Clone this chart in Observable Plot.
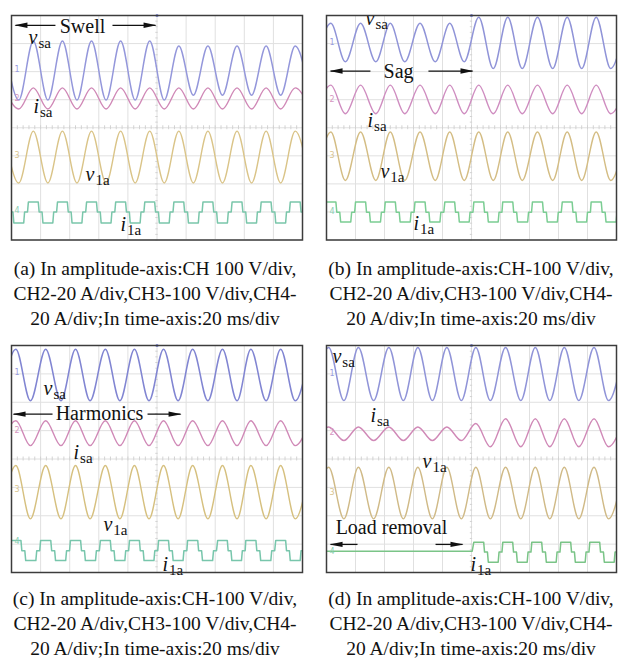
<!DOCTYPE html>
<html><head><meta charset="utf-8">
<script src="https://cdn.jsdelivr.net/npm/d3@7"></script>
<script src="https://cdn.jsdelivr.net/npm/@observablehq/plot@0.6"></script>
<style>
body{margin:0;background:#fff;}
#root{position:relative;width:620px;height:662px;overflow:hidden;background:#fff;font-family:"Liberation Serif","Times New Roman","DejaVu Serif",serif;}
.panel{position:absolute;}
.panel svg{overflow:visible;}
.cap{position:absolute;width:310px;text-align:center;font-size:19.5px;line-height:25px;color:#111;white-space:nowrap;}
</style></head><body><div id="root"></div>
<script>
// ---------- data (time in ms, 20 ms/div; amplitude in divisions, 0 = bottom) ----------
// panel (a) Swell
const tA   = [-5,5,15,25,35,45,55,65,75,85,95,105,115,125,135,145,155,165,175,185,195,205];
const vsaA = [7.09,4.99,7.09,4.99,7.09,4.99,7.09,4.99,7.09,4.99,7.09,4.99,6.91,5.16,6.91,5.16,6.91,5.16,6.91,5.16,6.91,5.16];
const isaA = [5.42,4.67,5.42,4.67,5.42,4.67,5.42,4.67,5.42,4.67,5.42,4.67,5.42,4.67,5.42,4.67,5.42,4.67,5.42,4.67,5.42,4.67];
const v1aA = [3.88,2.03,3.88,2.03,3.88,2.03,3.88,2.03,3.88,2.03,3.88,2.03,3.88,2.03,3.88,2.03,3.88,2.03,3.88,2.03,3.88,2.03];
const i1aCentersA = [-5,15,35,55,75,95,115,135,155,175,195,215];
const i1aLevelsA = [1.35,1.0,0.61];
// panel (b) Sag
const tB   = [-7,3,13,23.5,34,44,54,64.5,75,85,95,105,115,125,135,145.5,156,166,176,186,196,206.5];
const vsaB = [6.35,7.72,6.35,7.72,6.35,7.72,6.35,7.72,6.35,7.72,6.35,7.94,6.11,7.94,6.11,7.94,6.11,7.94,6.11,7.94,6.11,7.94];
const isaB = [4.5,5.52,4.5,5.52,4.5,5.52,4.5,5.52,4.5,5.52,4.5,5.52,4.5,5.52,4.5,5.52,4.5,5.52,4.5,5.52,4.5,5.52];
const v1aB = [2.12,3.85,2.12,3.85,2.12,3.85,2.12,3.85,2.12,3.85,2.12,3.85,2.12,3.85,2.12,3.85,2.12,3.85,2.12,3.85,2.12,3.85];
const i1aCentersB = [-17.5,3,23.5,44,64.5,85,105,125,145.5,166,186,206.5];
const i1aLevelsB = [1.35,0.99,0.64];
// panel (c) Harmonics
const tC   = [-7,3,13,23.5,34,44,54,64.5,74.5,84.5,94.5,104.5,114.5,124.5,135,145,155,164.5,175,185,195,205];
const vsaC = [6.05,7.87,6.05,7.87,6.05,7.87,6.05,7.87,6.05,7.87,6.05,7.87,6.05,7.87,6.05,7.87,6.05,7.87,6.05,7.87,6.05,7.87];
const isaC = [4.47,5.35,4.47,5.35,4.47,5.35,4.47,5.35,4.47,5.35,4.47,5.35,4.47,5.35,4.47,5.35,4.47,5.35,4.47,5.35,4.47,5.35];
const v1aC = [1.89,3.77,1.89,3.77,1.89,3.77,1.89,3.77,1.89,3.77,1.89,3.77,1.89,3.77,1.89,3.77,1.89,3.77,1.89,3.77,1.89,3.77];
const i1aCentersC = [-17,3,23.5,44,64.5,84.5,104.5,124.5,145,164.5,185,205];
const i1aLevelsC = [1.13,0.77,0.42];
// panel (d) Load removal
const tD   = [-9,1.5,12,22,32.5,43,53,63,73,83,93,103,113,123.5,134,144,154,164,174,184.5,194.5,205];
const vsaD = [6.06,7.93,6.06,7.93,6.06,7.93,6.06,7.93,6.06,7.93,6.06,7.93,6.06,7.93,6.06,7.93,6.06,7.93,6.06,7.93,6.06,7.93];
const isaD = [4.65,5.13,4.65,5.13,4.65,5.13,4.65,5.13,4.65,5.13,4.65,5.25,4.43,5.42,4.43,5.42,4.43,5.42,4.43,5.42,4.43,5.42];
const v1aD = [1.89,3.71,1.89,3.71,1.89,3.71,1.89,3.71,1.89,3.71,1.89,3.71,1.89,3.71,1.89,3.71,1.89,3.71,1.89,3.71,1.89,3.71];
const i1aOffD = [[-5,0.75],[100.5,0.75]];
const i1aCentersD = [105,125,145,165,185,205];
const i1aLevelsD = [1.07,0.72,0.36];

// labels  (text "main|subscript", t ms, y div)
const labelsA = [{s:"v|sa",t:11.7,y:6.98},{s:"i|sa",t:15.1,y:4.53},{s:"v|1a",t:50.9,y:2.10},{s:"i|1a",t:74.9,y:0.32}];
const labelsB = [{s:"v|sa",t:26.9,y:7.66},{s:"i|sa",t:28.3,y:4.02},{s:"v|1a",t:37.2,y:2.2},{s:"i|1a",t:60,y:0.34}];
const labelsC = [{s:"v|sa",t:22,y:6.24},{s:"i|sa",t:42.6,y:4.01},{s:"v|1a",t:63.2,y:1.48},{s:"i|1a",t:103.8,y:0.07}];
const labelsD = [{s:"v|sa",t:4.1,y:7.4},{s:"i|sa",t:30.3,y:5.29},{s:"v|1a",t:66.2,y:3.7},{s:"i|1a",t:99.3,y:0.07}];
// event annotations
const notesA = [{s:"Swell",t:48.8,y:7.39}];
const arrowsA = [{x1:30.2,x2:2.7,y:7.65},{x1:69.4,x2:99,y:7.65}];
const notesB = [{s:"Sag",t:49.7,y:5.79}];
const arrowsB = [{x1:30.3,x2:2.8,y:6.02},{x1:70.3,x2:100.7,y:6.02}];
const notesC = [{s:"Harmonics",t:60.5,y:5.36}];
const arrowsC = [{x1:28.2,x2:1.4,y:5.58},{x1:93.5,x2:116.2,y:5.58}];
const notesD = [{s:"Load removal",t:44.8,y:1.34}];
const arrowsD = [{x1:21.4,x2:2.8,y:0.99},{x1:75.2,x2:93.8,y:0.99}];
// channel ground markers
const channels = ["1","2","3","4"];
const markersA = [6.09,5.06,3.03,1.07];
const markersB = [7.05,5.02,3.02,1.02];
const markersC = [7.04,5.0,2.92,1.09];
const markersD = [7.02,4.93,2.82,0.75];

const captions = [
  ["(a) In amplitude-axis:CH 100 V/div,","CH2-20 A/div,CH3-100 V/div,CH4-","20 A/div;In time-axis:20 ms/div"],
  ["(b) In amplitude-axis:CH-100 V/div,","CH2-20 A/div,CH3-100 V/div,CH4-","20 A/div;In time-axis:20 ms/div"],
  ["(c) In amplitude-axis:CH-100 V/div,","CH2-20 A/div,CH3-100 V/div,CH4-","20 A/div;In time-axis:20 ms/div"],
  ["(d) In amplitude-axis:CH-100 V/div,","CH2-20 A/div,CH3-100 V/div,CH4-","20 A/div;In time-axis:20 ms/div"]
];

// ---------- helpers ----------
const svgns = "http://www.w3.org/2000/svg";
const rows = (times, vals) => times.map((t,i)=>({t, v: vals[i]}));
// one cycle of the stepped load current: high, mid step, low, mid step (fractions of a period)
const stepShape = [[-0.17,0],[0.17,0],[0.20,1],[0.30,1],[0.33,2],[0.67,2],[0.70,1],[0.80,1]];
function stepRows(centers, levels){
  const out = [];
  centers.forEach((c,i)=>{
    const T = i < centers.length-1 ? centers[i+1]-c : c-centers[i-1];
    stepShape.forEach(([f,k])=>out.push({t:c+f*T, v:levels[k]}));
  });
  return out;
}
const headRight = {draw(ctx){ctx.moveTo(1,0);ctx.lineTo(-12,-2.7);ctx.lineTo(-12,2.7);ctx.closePath();}};
const headLeft  = {draw(ctx){ctx.moveTo(-1,0);ctx.lineTo(12,-2.7);ctx.lineTo(12,2.7);ctx.closePath();}};

const root = document.getElementById("root");
const gridX = d3.range(0,201,20), gridY = d3.range(0,9,1);
const minorX = d3.range(0,200.1,4), minorY = d3.range(0,8.01,0.2);
const serif = "Liberation Serif, Times New Roman, DejaVu Serif, serif";

function panel(cfg){
  const {left, top, w, h} = cfg;
  const col = cfg.colors;
  const chart = Plot.plot({
    width: w+4, height: h+4, margin: 2,
    x:{domain:[0,200], axis:null}, y:{domain:[0,8], axis:null},
    style:{background:"transparent", overflow:"visible"},
    marks:[
      Plot.ruleX(gridX, {stroke:"#e0e0e0", strokeWidth:1}),
      Plot.ruleY(gridY, {stroke:"#e0e0e0", strokeWidth:1}),
      Plot.ruleX(minorX, {x:d=>d, y1:3.93, y2:4.07, stroke:"#d2d2d2", strokeWidth:1}),
      Plot.ruleY(minorY, {y:d=>d, x1:99.2, x2:100.8, stroke:"#d2d2d2", strokeWidth:1}),
      Plot.line(rows(cfg.times, cfg.vsa), {x:"t", y:"v", stroke:col[0], strokeWidth:1.5, curve:"monotone-x", clip:true}),
      Plot.line(rows(cfg.times, cfg.isa), {x:"t", y:"v", stroke:col[1], strokeWidth:1.4, curve:"monotone-x", clip:true}),
      Plot.line(rows(cfg.times, cfg.v1a), {x:"t", y:"v", stroke:col[2], strokeWidth:1.4, curve:"monotone-x", clip:true}),
      Plot.line(cfg.i1a, {x:"t", y:"v", stroke:col[3], strokeWidth:1.5, curve:"linear", clip:true}),
      Plot.dot([100], {x:d=>d, y:8, r:1.6, fill:"#7d86d6", stroke:"none"}),
      Plot.text(cfg.markers, {x:0, y:d=>d, text:(d,i)=>channels[i], dx:3, textAnchor:"start", fontSize:8, fontFamily:"DejaVu Sans", fill:(d,i)=>cfg.markColors[i]}),
      Plot.link(cfg.arrows, {x1:"x1", x2:"x2", y1:"y", y2:"y", stroke:"#111", strokeWidth:1.3}),
      Plot.dot(cfg.arrows.filter(a=>a.x2>a.x1), {x:"x2", y:"y", symbol:headRight, fill:"#111", stroke:"none"}),
      Plot.dot(cfg.arrows.filter(a=>a.x2<a.x1), {x:"x2", y:"y", symbol:headLeft, fill:"#111", stroke:"none"}),
      Plot.text(cfg.notes, {x:"t", y:"y", text:"s", textAnchor:"middle", lineAnchor:"bottom", fontSize:20, fontFamily:serif, fill:"#111"}),
      Plot.text(cfg.labels, {x:"t", y:"y", text:"s", textAnchor:"start", lineAnchor:"bottom", fontSize:20, fontFamily:serif, fill:"#111"}),
      Plot.frame({stroke:"#3c3c3c", strokeWidth:1.5})
    ]
  });
  chart.querySelectorAll("text").forEach(t=>{
    const s = t.textContent;
    if (!s.includes("|")) return;
    const [m, sub] = s.split("|");
    t.textContent = "";
    const a = document.createElementNS(svgns,"tspan");
    a.setAttribute("font-style","italic"); a.textContent = m;
    const b = document.createElementNS(svgns,"tspan");
    b.setAttribute("font-size","15"); b.setAttribute("dy","4"); b.setAttribute("dx","1"); b.textContent = sub;
    t.append(a,b);
  });
  const div = document.createElement("div");
  div.className = "panel";
  div.style.left = (left-2)+"px"; div.style.top = (top-2)+"px";
  div.appendChild(chart);
  root.appendChild(div);
}

const markColors = ["#9a9ee0","#d696bf","#d8c48f","#8ccfb5"];
panel({left:11, top:14.5, w:291, h:224.5, times:tA, vsa:vsaA, isa:isaA, v1a:v1aA,
  i1a:stepRows(i1aCentersA, i1aLevelsA), colors:["#9497db","#d089b7","#dac488","#7ac6aa"], markColors,
  labels:labelsA, notes:notesA, arrows:arrowsA, markers:markersA});
panel({left:326, top:15, w:290, h:224.5, times:tB, vsa:vsaB, isa:isaB, v1a:v1aB,
  i1a:stepRows(i1aCentersB, i1aLevelsB), colors:["#9094d8","#cf8dc0","#d4bd84","#7bcd93"], markColors,
  labels:labelsB, notes:notesB, arrows:arrowsB, markers:markersB});
panel({left:11, top:345, w:291, h:227, times:tC, vsa:vsaC, isa:isaC, v1a:v1aC,
  i1a:stepRows(i1aCentersC, i1aLevelsC), colors:["#8185d2","#d089b7","#d6c07f","#78c6ac"], markColors,
  labels:labelsC, notes:notesC, arrows:arrowsC, markers:markersC});
panel({left:326, top:345, w:290, h:227, times:tD, vsa:vsaD, isa:isaD, v1a:v1aD,
  i1a:[...i1aOffD.map(([t,v])=>({t,v})), ...stepRows(i1aCentersD, i1aLevelsD).filter(r=>r.t>=101)],
  colors:["#9094d8","#d089b7","#d0ba87","#7ac487"], markColors,
  labels:labelsD, notes:notesD, arrows:arrowsD, markers:markersD});

// captions
const capPos = [[0,255.5],[316,255.5],[0,585.5],[316,585.5]];
captions.forEach((lines,i)=>{
  const d = document.createElement("div");
  d.className = "cap";
  d.style.left = capPos[i][0]+"px"; d.style.top = capPos[i][1]+"px";
  lines.forEach((ln,j)=>{ if(j) d.appendChild(document.createElement("br")); d.appendChild(document.createTextNode(ln)); });
  root.appendChild(d);
});
</script></body></html>
